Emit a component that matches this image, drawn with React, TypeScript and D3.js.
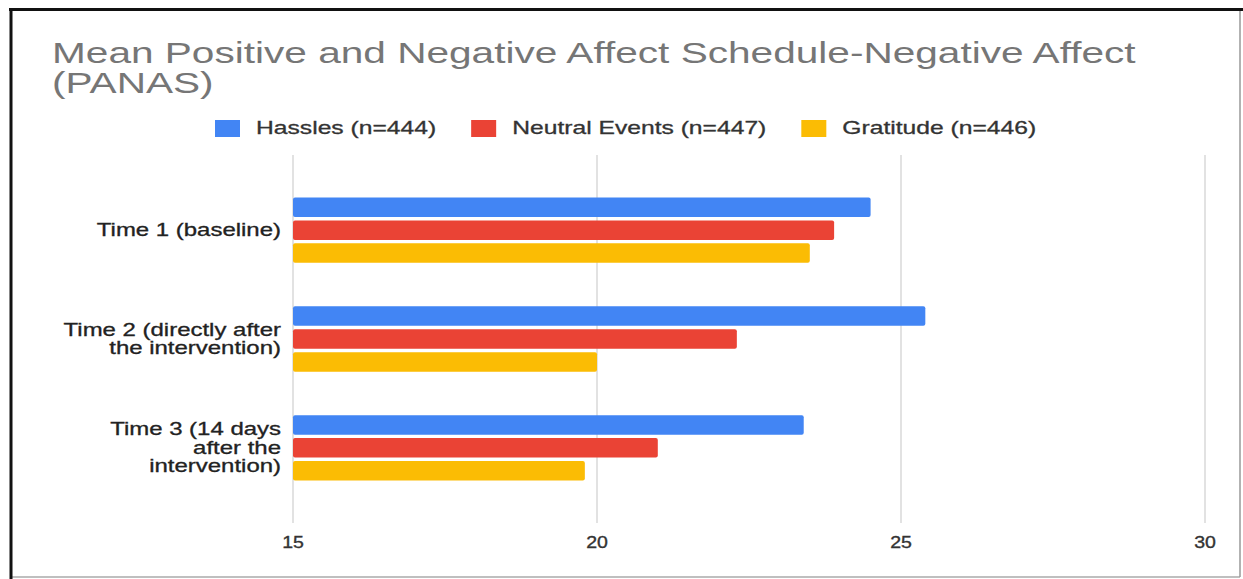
import React, { useEffect, useRef } from "react";
import * as d3 from "d3";

const titleLines = ["Mean Positive and Negative Affect Schedule-Negative Affect", "(PANAS)"];

const categories = ["Time 1", "Time 2", "Time 3"];
const categoryLabels = [
  ["Time 1 (baseline)"],
  ["Time 2 (directly after", "the intervention)"],
  ["Time 3 (14 days", "after the", "intervention)"],
];

const seriesNames = ["Hassles (n=444)", "Neutral Events (n=447)", "Gratitude (n=446)"];
const seriesColors = ["#4285F4", "#EA4335", "#FBBC04"];

const hassles = [24.5, 25.4, 23.4];
const neutralEvents = [23.9, 22.3, 21.0];
const gratitude = [23.5, 20.0, 19.8];

const xTicks = [15, 20, 25, 30];

const W = 1243;
const H = 579;
// the source picture is stretched sideways, so text gets widened too
const stretch = 1.37;
const titleStretch = 1.4;
const FONT = "'Liberation Sans', Arial, sans-serif";

const App = () => {
  const ref = useRef<SVGSVGElement | null>(null);

  useEffect(() => {
    const svg = d3.select(ref.current);
    svg.selectAll("*").remove();

    const allSeries = [hassles, neutralEvents, gratitude];

    // frame around the figure
    svg.append("rect").attr("width", W).attr("height", H).attr("fill", "#fff");
    svg.append("line").attr("x1", 11).attr("x2", 1240).attr("y1", 577).attr("y2", 577)
      .attr("stroke", "#aaa").attr("stroke-width", 1.5);
    svg.append("line").attr("x1", 1240).attr("x2", 1240).attr("y1", 9).attr("y2", 577)
      .attr("stroke", "#999").attr("stroke-width", 1.5);
    svg.append("line").attr("x1", 11).attr("x2", 11).attr("y1", 8).attr("y2", H)
      .attr("stroke", "#111").attr("stroke-width", 3);
    svg.append("line").attr("x1", 9).attr("x2", W).attr("y1", 9.5).attr("y2", 9.5)
      .attr("stroke", "#111").attr("stroke-width", 3);

    // title
    svg.append("g")
      .selectAll("text")
      .data(titleLines)
      .join("text")
      .attr("transform", (d, i) => `translate(52,${63 + i * 30}) scale(${titleStretch},1)`)
      .attr("fill", "#767676")
      .style("font", `29px ${FONT}`)
      .text((d) => d);

    const x = d3.scaleLinear().domain([15, 30]).range([293, 1205]);
    const y = d3.scaleBand().domain(categories).range([154, 524]).padding(0.4);
    const ySub = d3.scaleBand().domain(seriesNames).range([0, y.bandwidth()]).paddingInner(0.15);

    // gridlines
    svg.append("g")
      .selectAll("line")
      .data(xTicks)
      .join("line")
      .attr("x1", (d) => x(d))
      .attr("x2", (d) => x(d))
      .attr("y1", 155)
      .attr("y2", 523)
      .attr("stroke", "#cfcfcf")
      .attr("stroke-width", 1.2);

    // tick labels
    svg.append("g")
      .selectAll("text")
      .data(xTicks)
      .join("text")
      .attr("transform", (d) => `translate(${x(d)},548) scale(1.15,1)`)
      .attr("text-anchor", "middle")
      .attr("fill", "#333")
      .attr("stroke", "#333")
      .attr("stroke-width", 0.35)
      .style("font", `17px ${FONT}`)
      .text((d) => d);

    // bars
    const groups = svg.append("g")
      .selectAll("g")
      .data(categories)
      .join("g")
      .attr("transform", (d) => `translate(0,${y(d)})`);

    groups.selectAll("rect")
      .data((d, ci) => seriesNames.map((s, si) => ({ s, si, v: allSeries[si][ci] })))
      .join("rect")
      .attr("x", x(15))
      .attr("y", (d) => ySub(d.s)!)
      .attr("width", (d) => x(d.v) - x(15))
      .attr("height", ySub.bandwidth())
      .attr("rx", 2)
      .attr("fill", (d) => seriesColors[d.si]);

    // category labels
    const lineH = 18.5;
    groups.each(function (d, ci) {
      const lines = categoryLabels[ci];
      const mid = y.bandwidth() / 2;
      d3.select(this)
        .selectAll("text")
        .data(lines)
        .join("text")
        .attr("transform", (t, li) =>
          `translate(281,${mid + (li - (lines.length - 1) / 2) * lineH + 6}) scale(${stretch},1)`)
        .attr("text-anchor", "end")
        .attr("fill", "#222")
        .attr("stroke", "#222")
        .attr("stroke-width", 0.3)
        .style("font", `17.5px ${FONT}`)
        .text((t) => t);
    });

    // legend, laid out left to right
    const legend = svg.append("g").attr("transform", "translate(215,0)");
    let lx = 0;
    seriesNames.forEach((name, i) => {
      legend.append("rect")
        .attr("x", lx).attr("y", 120).attr("width", 25).attr("height", 17)
        .attr("fill", seriesColors[i]);
      const t = legend.append("text")
        .attr("transform", `translate(${lx + 41},134) scale(${stretch},1)`)
        .attr("fill", "#333")
        .attr("stroke", "#333")
        .attr("stroke-width", 0.3)
        .style("font", `18px ${FONT}`)
        .text(name);
      const w = (t.node() as SVGTextElement).getComputedTextLength() * stretch;
      lx += 41 + w + 35;
    });
  }, []);

  return (
    <svg
      ref={ref}
      width={W}
      height={H}
      style={{ position: "absolute", left: 0, top: 0, display: "block" }}
    />
  );
};

export default App;
